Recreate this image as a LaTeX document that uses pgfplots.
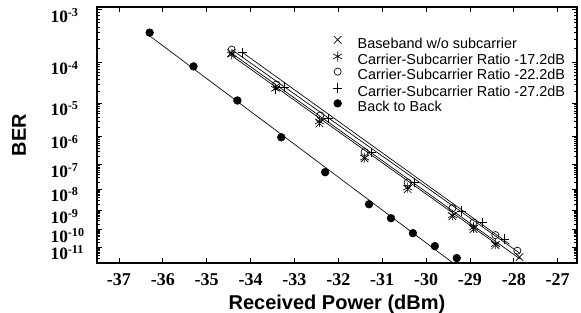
\documentclass[border=0pt]{standalone}
\usepackage{fontspec}
\setmainfont{Liberation Serif}
\setsansfont{Liberation Sans}
\usepackage{pgfplots}
\pgfplotsset{compat=1.18}
\begin{document}
\begin{tikzpicture}
\begin{axis}[name=ax,
  scale only axis, width=360pt, height=192pt,
  xmin=-37.5, xmax=-26.56,
  ymode=log, y dir=reverse, ymin=2.955, ymax=12,
  xtick={-37,-36,-35,-34,-33,-32,-31,-30,-29,-28,-27},
  xticklabels={-37,-36,-35,-34,-33,-32,-31,-30,-29,-28,-27},
  minor xtick={},
  ytick={3,4,5,6,7,8,9,10,11},
  yticklabels={10\textsuperscript{-3},10\textsuperscript{-4},10\textsuperscript{-5},10\textsuperscript{-6},10\textsuperscript{-7},10\textsuperscript{-8},10\textsuperscript{-9},10\textsuperscript{-10},10\textsuperscript{-11}},
  minor ytick={3.69897,3.52288,3.39794,3.30103,3.22185,3.15490,3.09691,3.04576,
    4.69897,4.52288,4.39794,4.30103,4.22185,4.15490,4.09691,4.04576,
    5.69897,5.52288,5.39794,5.30103,5.22185,5.15490,5.09691,5.04576,
    6.69897,6.52288,6.39794,6.30103,6.22185,6.15490,6.09691,6.04576,
    7.69897,7.52288,7.39794,7.30103,7.22185,7.15490,7.09691,7.04576,
    8.69897,8.52288,8.39794,8.30103,8.22185,8.15490,8.09691,8.04576,
    9.69897,9.52288,9.39794,9.30103,9.22185,9.15490,9.09691,9.04576,
    10.69897,10.52288,10.39794,10.30103,10.22185,10.15490,10.09691,10.04576,
    11.69897,11.52288,11.39794,11.30103,11.22185,11.15490,11.09691,11.04576},
  tick align=inside,
  major tick length=3.75pt, minor tick length=2.6pt,
  axis line style={line width=1pt},
  every tick/.style={black, line width=0.5pt},
  xticklabel style={font=\bfseries\fontsize{13.5}{13.5}\selectfont, yshift=-4.3pt},
  yticklabel style={font=\bfseries\fontsize{13}{13}\selectfont, anchor=west, inner sep=0pt, xshift=-35pt, yshift=-4.3pt},
  xlabel={Received Power (dBm)},
  xlabel style={font=\sffamily\bfseries\fontsize{15}{15}\selectfont, at={(axis description cs:0.5,-0.125)}, anchor=north, inner sep=0pt},
  ylabel={BER},
  ylabel style={font=\sffamily\bfseries\fontsize{15}{15}\selectfont, at={(axis description cs:-0.1625,0.5)}, anchor=center, inner sep=0pt},
  legend style={draw=none, fill=none, at={(0.4917,0.8867)}, anchor=north west,
    font=\sffamily\fontsize{10.8}{10.8}\selectfont, inner sep=0pt, outer sep=0pt,
    row sep=0pt, column sep=11.5pt,
    nodes={inner sep=0pt, text height=7.5pt, text depth=2.5pt}},
  legend cell align=left,
  legend image code/.code={\draw[#1] plot coordinates {(0pt,3.7pt)};},
]
% fitted lines
\addplot[black, line width=0.5pt, forget plot] coordinates {(-34.44,3.80) (-27.85,11.75)};
\addplot[black, line width=0.5pt, forget plot] coordinates {(-34.43,3.857) (-28.33,10.94)};
\addplot[black, line width=0.5pt, forget plot] coordinates {(-34.43,3.732) (-27.87,11.36)};
\addplot[black, line width=0.5pt, forget plot] coordinates {(-34.19,3.787) (-28.10,10.82)};
\addplot[black, line width=0.5pt, forget plot] coordinates {(-36.285,3.47) (-29.353,12.07)};
% markers
\addplot[only marks, mark=x, mark size=4pt, black, line width=0.5pt] coordinates {
(-34.44,3.80) (-33.43,4.59) (-32.43,5.59) (-31.40,6.77) (-30.42,8.01) (-29.40,9.29) (-28.92,9.97) (-28.42,10.88) (-27.87,11.62)};
\addlegendentry{Baseband w/o subcarrier}
\addplot[only marks, mark=asterisk, mark size=3.8pt, black, line width=0.5pt] coordinates {
(-34.43,3.835) (-33.43,4.625) (-32.43,5.53) (-31.40,6.74) (-30.42,7.94) (-29.40,9.24) (-28.92,9.88) (-28.42,10.82)};
\addlegendentry{Carrier-Subcarrier Ratio -17.2dB}
\addplot[only marks, mark=o, mark size=2.7pt, black, line width=0.5pt] coordinates {
(-34.43,3.732) (-33.41,4.518) (-32.41,5.351) (-31.40,6.538) (-30.42,7.727) (-29.40,8.889) (-28.92,9.612) (-28.42,10.30) (-27.92,11.22)};
\addlegendentry{Carrier-Subcarrier Ratio -22.2dB}
\addplot[only marks, mark=+, mark size=3.5pt, black, line width=0.5pt] coordinates {
(-34.19,3.787) (-33.23,4.575) (-32.22,5.439) (-31.24,6.559) (-30.26,7.727) (-29.19,9.021) (-28.72,9.612) (-28.21,10.53)};
\addlegendentry{Carrier-Subcarrier Ratio -27.2dB}
\addplot[only marks, mark=*, mark size=2.9pt, black] coordinates {
(-36.3,3.40) (-35.3,4.09) (-34.3,4.93) (-33.3,6.03) (-32.3,7.30) (-31.3,8.70) (-30.8,9.39) (-30.3,10.19) (-29.8,10.94) (-29.3,11.68)};
\addlegendentry{Back to Back}
\end{axis}
\pgfresetboundingbox
\path[use as bounding box] (ax.south west) ++(-72.75pt,-37.5pt) rectangle ++(435.75pt,234.75pt);
\end{tikzpicture}
\end{document}
